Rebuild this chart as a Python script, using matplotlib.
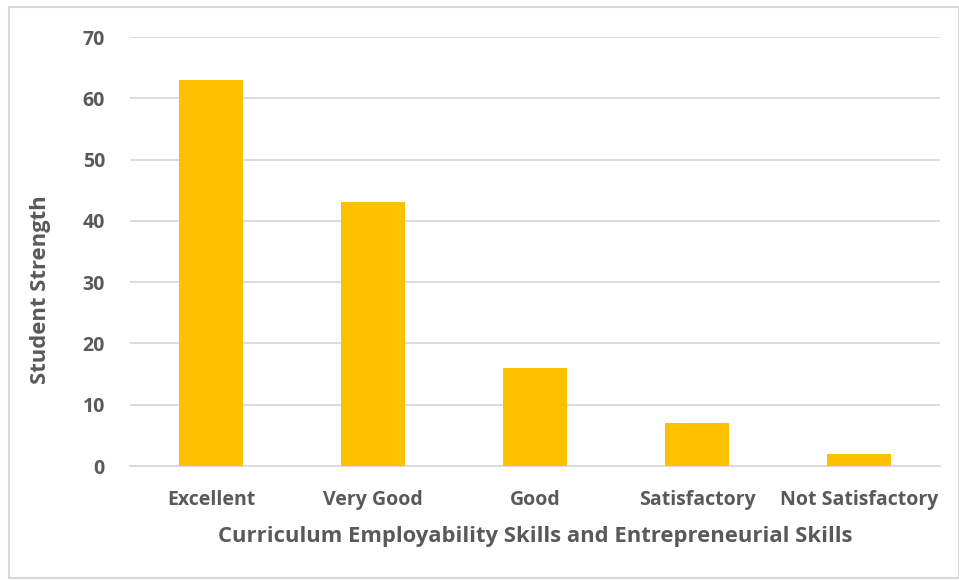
import matplotlib
matplotlib.use('Agg')
import matplotlib.pyplot as plt
import matplotlib.ticker as ticker
from matplotlib.patches import Rectangle

matplotlib.rcParams['font.family'] = ['Open Sans', 'DejaVu Sans']

categories = ['Excellent', 'Very Good', 'Good', 'Satisfactory', 'Not Satisfactory']
students = [63, 43, 16, 7, 2]

textColor = '#595959'
gridColor = '#D9D9D9'

fig = plt.figure(figsize=(9.59, 5.8), dpi=100)
ax = fig.add_axes([130/959, 1 - 466/580, 810/959, 429/580])

ax.bar(range(len(categories)), students, width=0.4, color='#FFC000', zorder=3)

ax.set_xlim(-0.5, len(categories) - 0.5)
ax.set_ylim(0, 70)
ax.yaxis.set_major_locator(ticker.MultipleLocator(10))
ax.grid(axis='y', color=gridColor, linewidth=1.3, zorder=0)

ax.set_xticks(range(len(categories)))
ax.set_xticklabels(categories)
ax.tick_params(axis='x', length=0, labelsize=14, labelcolor=textColor, pad=17)
ax.tick_params(axis='y', length=0, labelsize=14, labelcolor=textColor, pad=18)
for lab in ax.get_xticklabels() + ax.get_yticklabels():
    lab.set_fontweight('bold')

for side in ['top', 'right', 'left']:
    ax.spines[side].set_visible(False)
ax.spines['bottom'].set_color(gridColor)
ax.spines['bottom'].set_linewidth(1.3)

ax.set_xlabel('Curriculum Employability Skills and Entrepreneurial Skills',
              fontsize=15.8, fontweight='bold', color=textColor, labelpad=12)
ax.set_ylabel('Student Strength', fontsize=15.8, fontweight='bold',
              color=textColor)
ax.yaxis.set_label_coords(-0.097, 0.41)

# outer chart border
fig.patches.append(Rectangle((9/959, 1 - 578/580), 950/959, 571/580,
                             transform=fig.transFigure, fill=False,
                             edgecolor=gridColor, linewidth=1.5))

fig.savefig('out.png', dpi=100)
